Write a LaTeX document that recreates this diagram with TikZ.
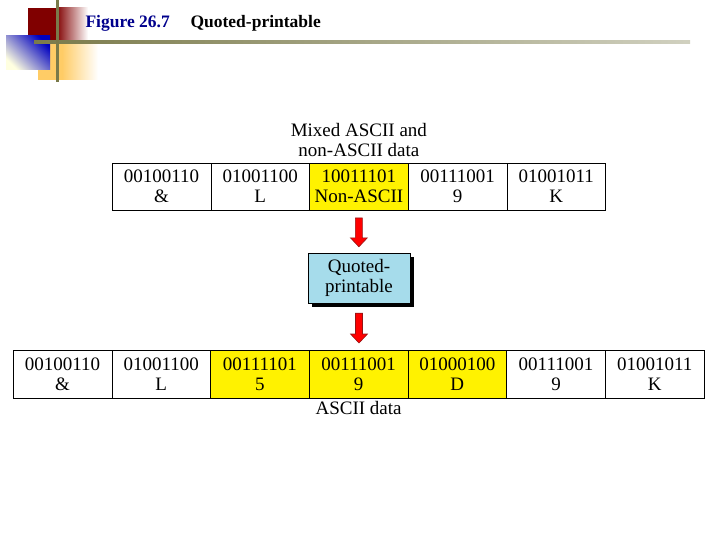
\documentclass[tikz,border=0pt]{standalone}
\usepackage{fontspec}
\setmainfont{Liberation Serif}
\usetikzlibrary{positioning, calc, shadows}
\definecolor{figblue}{RGB}{0,0,140}
\definecolor{darkred}{RGB}{128,0,0}
\definecolor{arrowred}{RGB}{150,20,20}
\definecolor{qpblue}{RGB}{166,220,235}
\definecolor{linegray}{RGB}{122,122,74}
\definecolor{softorange}{RGB}{255,204,102}

\begin{document}
\begin{tikzpicture}[x=1pt, y=-1pt, font=\fontsize{19}{20}\selectfont,
    cell/.style={draw, minimum width=98.7pt, minimum height=47pt, inner sep=0pt, outer sep=0pt, align=center},
    hl/.style={cell, fill=yellow},
    qpbox/.style={draw, fill=qpblue, minimum width=102pt, minimum height=50pt, align=center,
      drop shadow={shadow xshift=4pt, shadow yshift=-4pt, fill=black, opacity=1}},
    arrowbody/.style={fill=red, draw=arrowred, line width=0.6pt}]
    \useasboundingbox (0,0) rectangle (720,540);
    % header decoration
    \fill[darkred] (28,8) rectangle (56,42);
    \shade[left color=darkred, right color=white] (56,8) rectangle (88,42);
    \fill[softorange] (38,42) rectangle (62,80);
    \shade[left color=softorange, right color=white] (62,42) rectangle (98,80);
    \shade[shading=axis, top color=blue!75!black, bottom color=yellow!12, shading angle=-45] (6,36) rectangle (50,70);
    \shade[left color=linegray, right color=linegray!35] (34,40.5) rectangle (690,43.5);
    \fill[linegray] (55.5,0) rectangle (58.5,82);
    \node[anchor=west, font=\fontsize{17.5}{19}\selectfont\bfseries, text=figblue] (fignum) at (82,23) {Figure 26.7};
    \node[anchor=west, font=\fontsize{17.5}{19}\selectfont\bfseries] (figtitle) at (187,23) {Quoted-printable};
    % input bytes
    \node[cell] (t1) at (161.5,186.5) {00100110\\\&};
    \node[cell, right=0pt of t1] (t2) {01001100\\L};
    \node[hl, right=0pt of t2] (t3) {10011101\\Non-ASCII};
    \node[cell, right=0pt of t3] (t4) {00111001\\9};
    \node[cell, right=0pt of t4] (t5) {01001011\\K};
    \node[above=3pt of t3, align=center] (inlabel) {Mixed ASCII and\\non-ASCII data};
    % encoder
    \node[qpbox] (qp) at (359,278) {Quoted-\\printable};
    % output bytes
    \node[cell, minimum height=48pt] (b1) at (62.5,374) {00100110\\\&};
    \node[cell, minimum height=48pt, right=0pt of b1] (b2) {01001100\\L};
    \node[hl, minimum height=48pt, right=0pt of b2] (b3) {00111101\\5};
    \node[hl, minimum height=48pt, right=0pt of b3] (b4) {00111001\\9};
    \node[hl, minimum height=48pt, right=0pt of b4] (b5) {01000100\\D};
    \node[cell, minimum height=48pt, right=0pt of b5] (b6) {00111001\\9};
    \node[cell, minimum height=48pt, right=0pt of b6] (b7) {01001011\\K};
    \node[below=0pt of b4] (outlabel) {ASCII data};
    % arrows
    \path let \p1=($(t3.south)+(0,8)$), \p2=($(qp.north)+(0,-6)$) in
      [arrowbody] (\x1-3.5pt,\y1) -- (\x1+3.5pt,\y1) -- (\x1+3.5pt,\y2+9pt) -- (\x1+8.5pt,\y2+9pt)
      -- (\x1,\y2) -- (\x1-8.5pt,\y2+9pt) -- (\x1-3.5pt,\y2+9pt) -- cycle;
    \path let \p1=($(qp.south)+(0,10)$), \p2=($(b4.north)+(0,-7)$) in
      [arrowbody] (\x1-3.5pt,\y1) -- (\x1+3.5pt,\y1) -- (\x1+3.5pt,\y2+9pt) -- (\x1+8.5pt,\y2+9pt)
      -- (\x1,\y2) -- (\x1-8.5pt,\y2+9pt) -- (\x1-3.5pt,\y2+9pt) -- cycle;
\end{tikzpicture}
\end{document}
